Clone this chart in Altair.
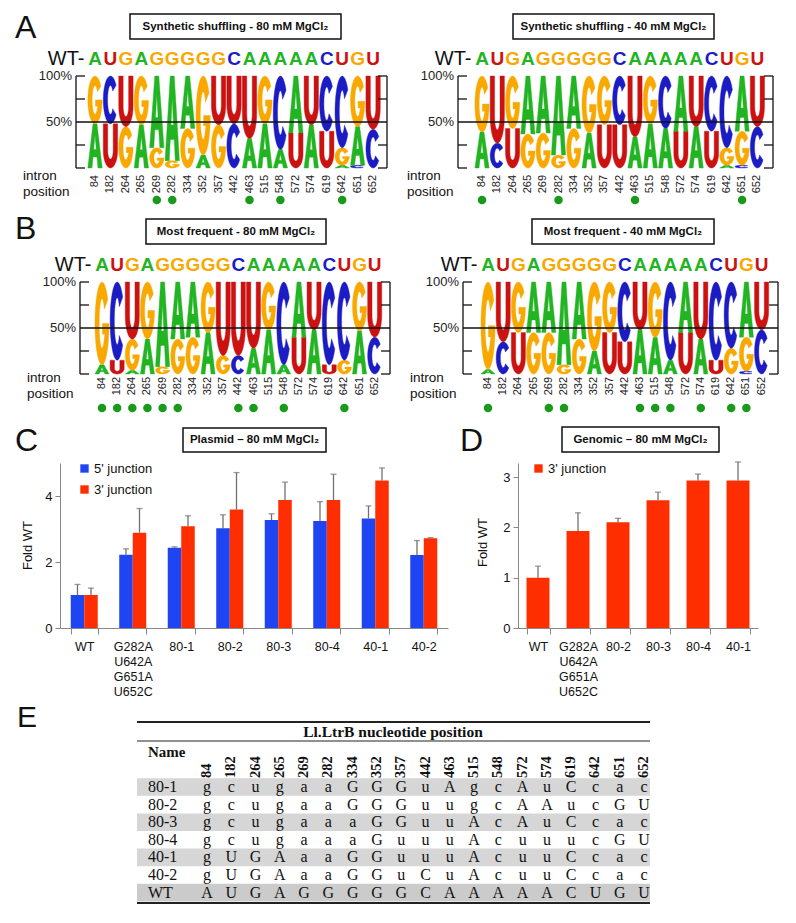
import altair as alt
import numpy as np
import pandas as pd

# ------------------------------------------------------------------ data
positions = ["84", "182", "264", "265", "269", "282", "334", "352", "357", "442",
             "463", "515", "548", "572", "574", "619", "642", "651", "652"]
wt_seq = list("AUGAGGGGGCAAAAACUGU")

logo_synth80 = [
    {"G": .52, "A": .48}, {"C": .52, "U": .48}, {"U": .55, "G": .45}, {"G": .53, "A": .47},
    {"A": .78, "G": .22}, {"A": .92, "G": .08}, {"A": .57, "G": .43}, {"G": .86, "A": .14},
    {"U": .53, "G": .47}, {"U": .52, "C": .48}, {"U": .68, "A": .32}, {"G": .52, "A": .48},
    {"C": .80, "A": .20}, {"A": .62, "U": .38}, {"U": .53, "A": .47}, {"C": .60, "U": .40},
    {"C": .78, "G": .19, "A": .03}, {"G": .55, "A": .42, "C": .03}, {"U": .58, "C": .42},
]
logo_synth40 = [
    {"G": .61, "A": .39}, {"U": .73, "C": .27}, {"G": .57, "U": .43}, {"A": .63, "G": .37},
    {"A": .62, "G": .38}, {"A": .86, "G": .14}, {"A": .57, "G": .43}, {"G": .62, "A": .38},
    {"G": .53, "U": .47}, {"C": .53, "U": .47}, {"U": .66, "A": .34}, {"G": .52, "A": .48},
    {"C": .57, "A": .43}, {"A": .60, "U": .40}, {"U": .55, "A": .45}, {"C": .60, "U": .40},
    {"C": .78, "G": .19, "A": .03}, {"A": .60, "G": .37, "C": .03}, {"U": .55, "C": .45},
]
logo_freq80 = [
    {"G": .90, "A": .10}, {"C": .85, "U": .15}, {"U": .62, "G": .34, "A": .04}, {"G": .62, "A": .38},
    {"A": .92, "G": .08}, {"A": .62, "G": .38}, {"A": .60, "G": .40}, {"G": .55, "A": .45},
    {"U": .80, "G": .20}, {"U": .80, "C": .20}, {"U": .72, "A": .28}, {"G": .52, "A": .48},
    {"C": .90, "A": .10}, {"A": .60, "U": .40}, {"U": .52, "A": .48}, {"C": .90, "U": .10},
    {"C": .85, "G": .15}, {"G": .53, "A": .47}, {"U": .60, "C": .40},
]
logo_freq40 = [
    {"G": .95, "A": .05}, {"U": .65, "C": .35}, {"G": .55, "U": .45}, {"A": .55, "G": .45},
    {"A": .55, "G": .45}, {"A": .90, "G": .10}, {"A": .62, "G": .38}, {"G": .75, "A": .25},
    {"G": .55, "U": .45}, {"C": .65, "U": .35}, {"U": .52, "A": .48}, {"G": .60, "A": .40},
    {"C": .85, "A": .15}, {"A": .55, "U": .45}, {"U": .62, "A": .38}, {"C": .85, "U": .15},
    {"C": .72, "G": .28}, {"A": .60, "G": .37, "C": .03}, {"U": .52, "C": .48},
]
dots_synth80 = ["269", "282", "463", "548", "642"]
dots_synth40 = ["84", "282", "463", "651"]
dots_freq80 = ["84", "182", "264", "265", "269", "282", "442", "463", "548", "642"]
dots_freq40 = ["84", "269", "282", "463", "515", "548", "574", "642", "651"]

plasmid_constructs = ["WT", "G282A U642A G651A U652C", "80-1", "80-2", "80-3", "80-4", "40-1", "40-2"]
plasmid_5p = [1.00, 2.22, 2.43, 3.02, 3.27, 3.24, 3.32, 2.21]
plasmid_5p_err = [1.32, 2.40, 2.46, 3.43, 3.46, 3.83, 3.70, 2.65]
plasmid_3p = [1.00, 2.89, 3.08, 3.59, 3.88, 3.88, 4.47, 2.72]
plasmid_3p_err = [1.21, 3.62, 3.40, 4.71, 4.42, 4.66, 4.85, 2.74]

genomic_constructs = ["WT", "G282A U642A G651A U652C", "80-2", "80-3", "80-4", "40-1"]
genomic_3p = [1.00, 1.93, 2.10, 2.54, 2.93, 2.93]
genomic_3p_err = [1.23, 2.29, 2.18, 2.70, 3.06, 3.30]

table_names = ["80-1", "80-2", "80-3", "80-4", "40-1", "40-2", "WT"]
table_rows = [
    "g c u g a a G G G u A g c A u C c a c",
    "g c u g a a G G G u u g c A A u c G U",
    "g c u g a a a G G u u A c A u C c a c",
    "g c u g a a a G u u u A c u u u c G U",
    "g U G A a a G G u u u A c u u C c a c",
    "g U G A a a G G u C u A c u u C c a c",
    "A U G A G G G G G C A A A A A C U G U",
]
table_shaded = ["80-1", "80-3", "40-1", "WT"]

# ------------------------------------------------------------------ style
NT_DOMAIN = ["A", "C", "G", "U"]
NT_COLORS = ["#22b422", "#1c1cc4", "#f8a800", "#cc1111"]
DOT_COLOR = "#1a9a1a"
BLUE = "#1f45f2"
RED = "#ff2e00"
SANS = "Liberation Sans"
SERIF = "Liberation Serif"
LETTER_W = 0.93
NT_SCALE = alt.Scale(domain=NT_DOMAIN, range=NT_COLORS)
ORIGIN_X = 60   # page x of the plot origin shared by the left-hand panels


def arc(cx, cy, rx, ry, a0, a1, n):
    return [(cx + rx * np.cos(np.radians(a)), cy + ry * np.sin(np.radians(a)))
            for a in np.linspace(a0, a1, n)]


def glyph(letter):
    if letter == "A":
        return [(0, 0), (0.36, 1), (0.64, 1), (1, 0), (0.71, 0), (0.635, 0.25), (0.365, 0.25),
                (0.41, 0.42), (0.59, 0.42), (0.5, 0.74), (0.41, 0.42), (0.365, 0.25), (0.29, 0)]
    if letter == "U":
        return ([(0, 1)] + arc(0.5, 0.4, 0.5, 0.4, 180, 360, 18) + [(1, 1), (0.69, 1)]
                + arc(0.5, 0.4, 0.19, 0.2, 360, 180, 14) + [(0.31, 1)])
    if letter == "C":
        return arc(0.5, 0.5, 0.5, 0.5, 38, 322, 30) + arc(0.5, 0.5, 0.2, 0.3, 322, 38, 24)
    return (arc(0.5, 0.5, 0.5, 0.5, 35, 360, 30) + [(0.53, 0.5), (0.53, 0.37), (0.7, 0.37)]
            + arc(0.5, 0.5, 0.2, 0.3, 322, 35, 24))


def frame_layer(fx0, fy0, fx1, fy1):
    # invisible rectangle that fixes the panel's layout bounds
    return alt.Chart(pd.DataFrame({"f": [0]})).mark_rect(opacity=0).encode(
        x=alt.value(fx0), x2=alt.value(fx1), y=alt.value(fy0), y2=alt.value(fy1))


def logo_chart(probs, dots, title, g):
    step, col0 = g["step"], g["col0"]
    bl, br, top, bot, px0 = g["bl"], g["br"], g["top"], g["bot"], g["px0"]
    ky = bot - top

    def vx(px):
        return (px - col0) / step

    def vy(py):
        return (bot - py) / ky

    sx = alt.Scale(domain=[vx(px0), vx(br)], nice=False, zero=False)
    sy = alt.Scale(domain=[0, 1], nice=False, zero=False)

    def X(f):
        return alt.X(f"{f}:Q", scale=sx, axis=None)

    def Y(f):
        return alt.Y(f"{f}:Q", scale=sy, axis=None)

    rows = []
    for i, col in enumerate(probs):
        base = 0.0
        for nt, p in sorted(col.items(), key=lambda kv: kv[1]):
            for k, (gx, gy) in enumerate(glyph(nt)):
                rows.append({"gid": f"{i}-{nt}", "nt": nt, "k": k,
                             "x": i + (gx - 0.5) * LETTER_W, "y": base + gy * p})
            base += p
    letters = alt.Chart(pd.DataFrame(rows)).mark_line(
        interpolate="linear-closed", strokeWidth=0.4).encode(
        x=X("x"), y=Y("y"), detail="gid:N", order="k:Q",
        fill=alt.Fill("nt:N", scale=NT_SCALE, legend=None),
        stroke=alt.Stroke("nt:N", scale=NT_SCALE, legend=None))

    xl, xr, stub = vx(bl), vx(br), 9 / step
    rl = [(xl, xl, 0, 1), (xr, xr, 0, 1), (xl, xr, 0.5, 0.5)]
    for v in [0, 0.25, 0.75, 1]:
        rl.append((xl, xl + stub, v, v))
        rl.append((xr - stub, xr, v, v))
    rdf = pd.DataFrame(rl, columns=["x", "x2", "y", "y2"])
    rules = alt.Chart(rdf).mark_rule(color="#111", strokeWidth=1.3).encode(
        x=X("x"), x2="x2:Q", y=Y("y"), y2="y2:Q")

    ylab = alt.Chart(pd.DataFrame({"x": [xl, xl], "y": [1.0, 0.5], "t": ["100%", "50%"],
                                   "dy": [6, 0]})).mark_text(
        align="right", baseline="middle", dx=-4, font=SANS, fontSize=13, color="#222").encode(
        x=X("x"), y=Y("y"), text="t:N", yOffset="dy:Q")

    wt = alt.Chart(pd.DataFrame({"x": range(19), "y": vy(g["wt"]), "t": wt_seq})).mark_text(
        baseline="alphabetic", font=SANS, fontSize=19, fontWeight="bold").encode(
        x=X("x"), y=Y("y"), text="t:N", fill=alt.Fill("t:N", scale=NT_SCALE, legend=None))
    wt_lab = alt.Chart(pd.DataFrame({"x": [vx(col0 - 10.5)], "y": [vy(g["wt"])], "t": ["WT-"]})).mark_text(
        align="right", baseline="alphabetic", font=SANS, fontSize=20, color="#111").encode(
        x=X("x"), y=Y("y"), text="t:N")

    bx0, by0, bx1, by1 = g["box"]
    box = alt.Chart(pd.DataFrame({"x": [vx(bx0)], "x2": [vx(bx1)], "y": [vy(by0)], "y2": [vy(by1)]})).mark_rect(
        fill="white", stroke="#111", strokeWidth=1.5).encode(x=X("x"), x2="x2:Q", y=Y("y"), y2="y2:Q")
    box_t = alt.Chart(pd.DataFrame({"x": [vx((bx0 + bx1) / 2)], "y": [vy((by0 + by1) / 2)], "t": [title]})).mark_text(
        font=SANS, fontSize=11.5, fontWeight="bold", color="#111", baseline="middle").encode(
        x=X("x"), y=Y("y"), text="t:N")

    pos = alt.Chart(pd.DataFrame({"x": range(19), "y": vy(g["lab"]), "t": positions})).mark_text(
        angle=270, align="right", baseline="middle", font=SANS, fontSize=11, color="#222").encode(
        x=X("x"), y=Y("y"), text="t:N")
    intron = alt.Chart(pd.DataFrame({"x": [vx(g["ix"])], "y": [vy(g["lab"] - 6)],
                                     "t": ["intron\nposition"]})).mark_text(
        align="left", baseline="top", lineBreak="\n", lineHeight=16, font=SANS, fontSize=13.5,
        color="#111").encode(x=X("x"), y=Y("y"), text="t:N")
    ddf = pd.DataFrame({"x": [positions.index(p) for p in dots], "y": vy(g["dot"])})
    dotm = alt.Chart(ddf).mark_circle(size=72, color=DOT_COLOR, opacity=1).encode(x=X("x"), y=Y("y"))

    fx0, fy0, fx1, fy1 = g["frame"]
    layers = [frame_layer(fx0 - px0, fy0 - top, fx1 - px0, fy1 - top),
              letters, rules, ylab, wt, wt_lab, box, box_t, pos, intron, dotm]
    if g.get("panel"):
        lx, ly, lt = g["panel"]
        layers.append(alt.Chart(pd.DataFrame({"x": [vx(lx)], "y": [vy(ly)], "t": [lt]})).mark_text(
            align="left", baseline="top", font=SANS, fontSize=32, color="#111").encode(
            x=X("x"), y=Y("y"), text="t:N"))
    return alt.layer(*layers).properties(width=br - px0, height=bot - top)


# geometry, in pixels of the 796x923 page
G_A_LEFT = dict(px0=ORIGIN_X, bl=76, br=387, top=76, bot=168, col0=95, step=15.45,
                box=(130, 14, 341, 39), wt=65, lab=175, dot=200, ix=23, panel=(15, 13, "A"),
                frame=(8, 8, 400, 205))
G_A_RIGHT = dict(px0=458, bl=458, br=773, top=76, bot=168, col0=482, step=15.3,
                 box=(513, 14, 714, 39), wt=65, lab=175, dot=200, ix=407, frame=(400, 8, 788, 205))
G_B_LEFT = dict(px0=ORIGIN_X, bl=80, br=390, top=282, bot=374, col0=102, step=15.15,
                box=(146, 219, 326, 244), wt=271, lab=377, dot=408, ix=27, panel=(15, 214, "B"),
                frame=(8, 205, 400, 415))
G_B_RIGHT = dict(px0=463, bl=463, br=778, top=282, bot=374, col0=488, step=15.2,
                 box=(532, 219, 714, 244), wt=271, lab=377, dot=408, ix=410, frame=(400, 205, 788, 415))

a_left = logo_chart(logo_synth80, dots_synth80, "Synthetic shuffling - 80 mM MgCl\u2082", G_A_LEFT)
a_right = logo_chart(logo_synth40, dots_synth40, "Synthetic shuffling - 40 mM MgCl\u2082", G_A_RIGHT)
b_left = logo_chart(logo_freq80, dots_freq80, "Most frequent - 80 mM MgCl\u2082", G_B_LEFT)
b_right = logo_chart(logo_freq40, dots_freq40, "Most frequent - 40 mM MgCl\u2082", G_B_RIGHT)


# ------------------------------------------------------------------ bar charts
def x_axis():
    return alt.Axis(title=None, labelAngle=0,
                    labelExpr="isValid(datum.value) ? split(datum.value, ' ') : ''",
                    labelFont=SANS, labelFontSize=12.5, labelColor="#111", labelPadding=6,
                    labelLineHeight=15, labelBaseline="top", tickBand="extent", tickSize=6,
                    tickColor="#888", domainColor="#888")


def y_axis(vals, tx, ty):
    return alt.Axis(values=vals, format="d", title="Fold WT", titleFont=SANS, titleFontSize=13,
                    titleFontWeight="normal", titleColor="#111", titleX=tx, titleY=ty, titleAngle=270,
                    titleAlign="center", titleBaseline="middle", labelFont=SANS, labelFontSize=13,
                    labelColor="#111", labelPadding=3, tickSize=5, tickColor="#888",
                    domainColor="#888", grid=False)


def deco(box, title, panel):
    bx0, by0, bx1, by1 = box
    one = pd.DataFrame({"t": [title]})
    r = alt.Chart(one).mark_rect(fill="white", stroke="#111", strokeWidth=1.5).encode(
        x=alt.value(bx0), x2=alt.value(bx1), y=alt.value(by0), y2=alt.value(by1))
    t = alt.Chart(one).mark_text(font=SANS, fontSize=11.5, fontWeight="bold", color="#111",
                                 baseline="middle").encode(
        x=alt.value((bx0 + bx1) / 2), y=alt.value((by0 + by1) / 2), text="t:N")
    lx, ly, lt = panel
    p = alt.Chart(pd.DataFrame({"t": [lt]})).mark_text(
        align="left", baseline="top", font=SANS, fontSize=32, color="#111").encode(
        x=alt.value(lx), y=alt.value(ly), text="t:N")
    return [r, t, p]


JUNCS = ["5' junction", "3' junction"]
pl_df = pd.DataFrame({
    "construct": plasmid_constructs * 2,
    "junction": [JUNCS[0]] * 8 + [JUNCS[1]] * 8,
    "value": plasmid_5p + plasmid_3p,
    "err": plasmid_5p_err + plasmid_3p_err,
})
# C plot: x 60..448, y 463..628 on the page
xc = alt.X("construct:N", sort=plasmid_constructs,
           scale=alt.Scale(paddingInner=0.443, paddingOuter=0.2215), axis=x_axis())
xoc = alt.XOffset("junction:N", sort=JUNCS, scale=alt.Scale(domain=JUNCS, paddingInner=0, paddingOuter=0))
yc = alt.Y("value:Q", scale=alt.Scale(domain=[0, 5], nice=False), axis=y_axis([0, 1, 2, 3, 4, 5], -33, 82))
c_bars = alt.Chart(pl_df).mark_bar().encode(
    x=xc, xOffset=xoc, y=yc,
    color=alt.Color("junction:N", scale=alt.Scale(domain=JUNCS, range=[BLUE, RED]),
                    legend=alt.Legend(orient="none", legendX=18, legendY=-1, title=None,
                                      symbolType="square", symbolSize=70, symbolStrokeWidth=0,
                                      labelFont=SANS, labelFontSize=13, labelColor="#111",
                                      rowPadding=7, labelOffset=3)))
c_err = alt.Chart(pl_df).mark_rule(color="#707070", strokeWidth=1.3).encode(
    x=xc, xOffset=xoc, y="value:Q", y2="err:Q")
c_cap = alt.Chart(pl_df).mark_tick(color="#707070", thickness=1.3, size=6).encode(
    x=xc, xOffset=xoc, y="err:Q")
c_chart = alt.layer(frame_layer(8 - 60, 415 - 463, 455 - 60, 700 - 463),
                    c_bars, c_err, c_cap,
                    *deco((123, -35, 266, -11), "Plasmid \u2013 80 mM MgCl\u2082", (-45, -37, "C"))
                    ).properties(width=388, height=165)

gn_df = pd.DataFrame({"construct": genomic_constructs, "junction": JUNCS[1],
                      "value": genomic_3p, "err": genomic_3p_err})
# D plot: x 518..758, y 463..628 on the page
xd = alt.X("construct:N", sort=genomic_constructs,
           scale=alt.Scale(paddingInner=0.425, paddingOuter=0.2125), axis=x_axis())
yd = alt.Y("value:Q", scale=alt.Scale(domain=[0, 3.28], nice=False), axis=y_axis([0, 1, 2, 3], -36, 79))
d_bars = alt.Chart(gn_df).mark_bar().encode(
    x=xd, y=yd,
    color=alt.Color("junction:N", scale=alt.Scale(domain=[JUNCS[1]], range=[RED]),
                    legend=alt.Legend(orient="none", legendX=14, legendY=-1, title=None,
                                      symbolType="square", symbolSize=70, symbolStrokeWidth=0,
                                      labelFont=SANS, labelFontSize=13, labelColor="#111",
                                      labelOffset=3)))
d_err = alt.Chart(gn_df).mark_rule(color="#707070", strokeWidth=1.3).encode(x=xd, y="value:Q", y2="err:Q")
d_cap = alt.Chart(gn_df).mark_tick(color="#707070", thickness=1.3, size=6).encode(x=xd, y="err:Q")
d_chart = alt.layer(frame_layer(455 - 518, 415 - 463, 788 - 518, 700 - 463),
                    d_bars, d_err, d_cap,
                    *deco((44, -36, 201, -11), "Genomic \u2013 80 mM MgCl\u2082", (-58, -37, "D"))
                    ).properties(width=240, height=165)

# ------------------------------------------------------------------ table
T_LEFT, T_RIGHT, T_TOP, T_BOT = 137, 650, 718, 905
E_COL0, E_STEP, E_ROW0, E_RSTEP = 207, 24.28, 787, 17.6


def ex(px):
    return (px - E_COL0) / E_STEP


def ey(py):
    return (py - E_ROW0) / E_RSTEP


sxe = alt.Scale(domain=[ex(ORIGIN_X), ex(T_RIGHT)], nice=False, zero=False)
sye = alt.Scale(domain=[ey(T_TOP), ey(T_BOT)], nice=False, zero=False, reverse=True)


def XE(f):
    return alt.X(f"{f}:Q", scale=sxe, axis=None)


def YE(f):
    return alt.Y(f"{f}:Q", scale=sye, axis=None)


shade_df = pd.DataFrame({"x": ex(T_LEFT), "x2": ex(T_RIGHT),
                         "y": [table_names.index(n) - 0.5 for n in table_shaded],
                         "y2": [table_names.index(n) + 0.5 for n in table_shaded],
                         "c": ["#d6d6d6" if n != "WT" else "#cbcbcb" for n in table_shaded]})
e_shade = alt.Chart(shade_df).mark_rect().encode(
    x=XE("x"), x2="x2:Q", y=YE("y"), y2="y2:Q", color=alt.Color("c:N", scale=None))
line_df = pd.DataFrame({"x": ex(T_LEFT), "x2": ex(T_RIGHT), "y": [ey(722), ey(741), ey(903)],
                        "w": [2.0, 1.2, 2.0]})
e_lines = alt.Chart(line_df).mark_rule(color="#222").encode(
    x=XE("x"), x2="x2:Q", y=YE("y"), strokeWidth=alt.StrokeWidth("w:Q", scale=None))
e_title = alt.Chart(pd.DataFrame({"x": [ex(393)], "y": [ey(731.5)], "t": ["Ll.LtrB nucleotide position"]})).mark_text(
    font=SERIF, fontSize=15.5, fontWeight="bold", baseline="middle", color="#111").encode(
    x=XE("x"), y=YE("y"), text="t:N")
e_name = alt.Chart(pd.DataFrame({"x": [ex(148)], "y": [ey(752)], "t": ["Name"]})).mark_text(
    font=SERIF, fontSize=15, fontWeight="bold", align="left", baseline="middle", color="#111").encode(
    x=XE("x"), y=YE("y"), text="t:N")
e_head = alt.Chart(pd.DataFrame({"x": range(19), "y": ey(778), "t": positions})).mark_text(
    font=SERIF, fontSize=14.5, fontWeight="bold", angle=270, align="left", baseline="middle",
    color="#111").encode(x=XE("x"), y=YE("y"), text="t:N")
e_rown = alt.Chart(pd.DataFrame({"x": ex(148), "y": range(len(table_names)), "t": table_names})).mark_text(
    font=SERIF, fontSize=16, align="left", baseline="middle", color="#111").encode(
    x=XE("x"), y=YE("y"), text="t:N")
cells = [{"x": c, "y": r, "t": ch} for r, row in enumerate(table_rows) for c, ch in enumerate(row.split())]
e_cells = alt.Chart(pd.DataFrame(cells)).mark_text(
    font=SERIF, fontSize=16, baseline="middle", color="#111").encode(x=XE("x"), y=YE("y"), text="t:N")
e_panel = alt.Chart(pd.DataFrame({"x": [ex(17)], "y": [ey(703)], "t": ["E"]})).mark_text(
    font=SANS, fontSize=30, align="left", baseline="top", color="#111").encode(
    x=XE("x"), y=YE("y"), text="t:N")
e_chart = alt.layer(frame_layer(8 - ORIGIN_X, 700 - T_TOP, 788 - ORIGIN_X, 912 - T_TOP),
                    e_shade, e_lines, e_title, e_name, e_head, e_rown, e_cells, e_panel).properties(
    width=T_RIGHT - ORIGIN_X, height=T_BOT - T_TOP)

# ------------------------------------------------------------------ assemble
row_a = alt.hconcat(a_left, a_right, spacing=0)
row_b = alt.hconcat(b_left, b_right, spacing=0)
row_c = alt.hconcat(c_chart, d_chart, spacing=0).resolve_scale(color="independent").resolve_legend(
    color="independent")
chart = alt.vconcat(row_a, row_b, row_c, e_chart, spacing=0).properties(
    padding={"left": 0, "top": 0, "right": 0, "bottom": 0},
    background="white",
).configure_view(strokeWidth=0)

chart.save("out.html", embed_options={"renderer": "svg", "actions": False})
